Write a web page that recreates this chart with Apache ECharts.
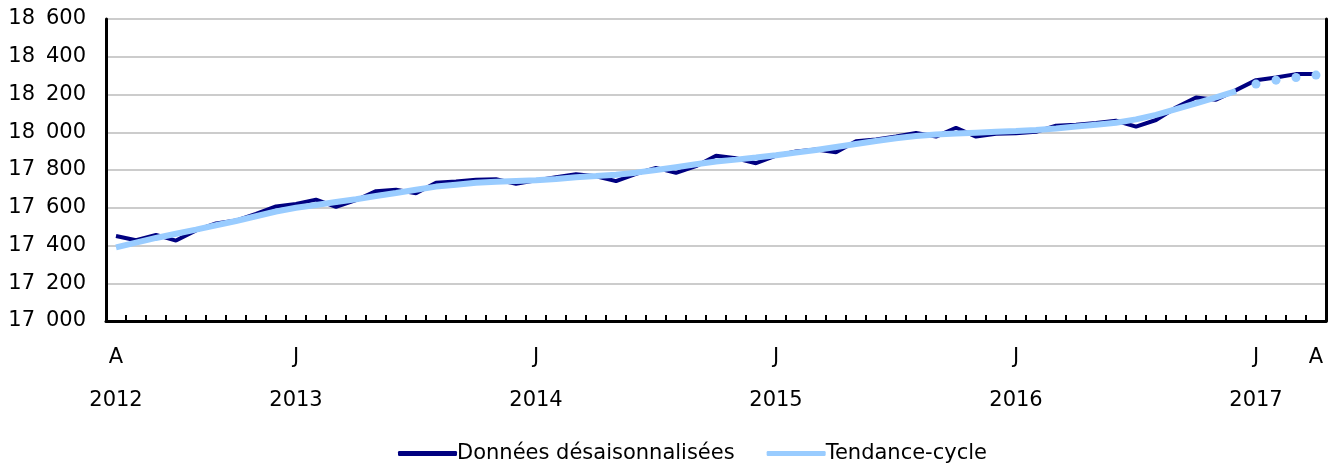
<!DOCTYPE html>
<html>
<head>
<meta charset="utf-8">
<script src="https://cdn.jsdelivr.net/npm/echarts@6/dist/echarts.min.js"></script>
<style>
  html, body { margin: 0; padding: 0; background: #fff; }
  #chart { width: 1333px; height: 465px; }
</style>
</head>
<body>
<div id="chart"></div>
<script>
// mois : avril 2012 -> avril 2017
const startYear = 2012
const startMonth = 3 // avril (0 = janvier)
const monthLetters = ['J', 'F', 'M', 'A', 'M', 'J', 'J', 'A', 'S', 'O', 'N', 'D']

// Données désaisonnalisées
const seasAdj = [
	17450, 17428, 17456, 17426, 17480, 17517, 17532, 17567, 17607, 17620,
	17643, 17605, 17640, 17688, 17695, 17677, 17732, 17739, 17748, 17751,
	17727, 17745, 17762, 17778, 17767, 17741, 17780, 17811, 17785, 17820,
	17876, 17862, 17836, 17876, 17898, 17908, 17894, 17952, 17962, 17977,
	17996, 17977, 18024, 17977, 17992, 17995, 18002, 18035, 18040, 18049,
	18061, 18030, 18065, 18131, 18184, 18172, 18223, 18276, 18290, 18308,
	18308
]

// Tendance-cycle (ligne pleine)
const trend = [
	17390, 17415, 17440, 17462, 17484, 17507, 17530, 17555, 17580, 17600,
	17615, 17630, 17645, 17662, 17678, 17695, 17712, 17722, 17732, 17738,
	17742, 17746, 17752, 17762, 17768, 17775, 17786, 17800, 17815, 17830,
	17845, 17855, 17866, 17878, 17892, 17906, 17922, 17938, 17954, 17968,
	17980, 17988, 17994, 17998, 18002, 18006, 18012, 18020, 18030, 18040,
	18050, 18068, 18092, 18122, 18153, 18185, 18218
]

// Tendance-cycle, derniers mois (points seuls)
const trendLast = [18255, 18276, 18290, 18303]

const yMin = 17000
const yMax = 18600
const yStep = 200

const categories = []
const xLabels = []
for (let i = 0; i < seasAdj.length; i++) {
	const m = (startMonth + i) % 12
	const y = startYear + Math.floor((startMonth + i) / 12)
	categories.push(y + '-' + (m + 1))
	if (i === 0 || m === 0) {
		xLabels.push(monthLetters[m] + '\n' + y)
	} else if (i === seasAdj.length - 1) {
		xLabels.push(monthLetters[m])
	} else {
		xLabels.push('')
	}
}

const trendLine = categories.map((c, i) => i < trend.length ? trend[i] : null)
const trendDots = categories.map((c, i) => {
	const k = i - (categories.length - trendLast.length)
	return k >= 0 ? trendLast[k] : null
})

const font = 'Verdana, "DejaVu Sans", sans-serif'
const fs = 21

const myChart = echarts.init(document.getElementById('chart'))

let option = {
	animation: false,
	textStyle: { fontFamily: font },
	grid: { left: 106, right: 7, top: 19, bottom: 144, containLabel: false, outerBoundsMode: 'none' },
	legend: {
		top: 438,
		left: 393,
		icon: 'roundRect',
		itemWidth: 59,
		itemHeight: 5,
		itemGap: 32,
		textStyle: { fontFamily: font, fontSize: fs, color: '#000', padding: [0, 0, 0, -5] },
		data: ['Données désaisonnalisées', 'Tendance-cycle']
	},
	xAxis: {
		type: 'category',
		data: categories,
		boundaryGap: true,
		axisLine: { lineStyle: { color: '#000', width: 3 } },
		axisTick: { show: true, inside: true, length: 6, lineStyle: { color: '#000', width: 2 } },
		axisLabel: {
			interval: 0,
			margin: 15,
			fontSize: fs,
			lineHeight: 43,
			verticalAlign: 'top',
			color: '#000',
			fontFamily: font,
			formatter: function(v, idx) { return xLabels[idx] }
		},
		splitLine: { show: false }
	},
	yAxis: [{
		type: 'value',
		min: yMin,
		max: yMax,
		interval: yStep,
		axisLine: { show: true, lineStyle: { color: '#000', width: 3 } },
		axisTick: { show: false },
		axisLabel: {
			margin: 20,
			fontSize: fs,
			color: '#000',
			fontFamily: font,
			formatter: function(v) { return String(v).replace(/\B(?=(\d{3})+(?!\d))/g, ' \u2009') }
		},
		splitLine: { lineStyle: { color: '#cccccc', width: 2 } }
	}, {
		type: 'value',
		position: 'right',
		min: yMin,
		max: yMax,
		interval: yStep,
		axisLine: { show: true, lineStyle: { color: '#000', width: 3 } },
		axisTick: { show: false },
		axisLabel: { show: false },
		splitLine: { show: false }
	}],
	series: [{
		name: 'Données désaisonnalisées',
		type: 'line',
		data: seasAdj,
		color: '#000080',
		showSymbol: false,
		lineStyle: { width: 4, color: '#000080' }
	}, {
		name: 'Tendance-cycle',
		type: 'line',
		data: trendLine,
		color: '#99ccff',
		showSymbol: false,
		lineStyle: { width: 6, color: '#99ccff' }
	}, {
		name: 'Tendance-cycle (points)',
		type: 'line',
		data: trendDots,
		color: '#99ccff',
		symbol: 'circle',
		symbolSize: 9,
		showSymbol: true,
		lineStyle: { width: 0, opacity: 0 },
		itemStyle: { color: '#99ccff' }
	}]
}

myChart.setOption(option)
</script>
</body>
</html>
